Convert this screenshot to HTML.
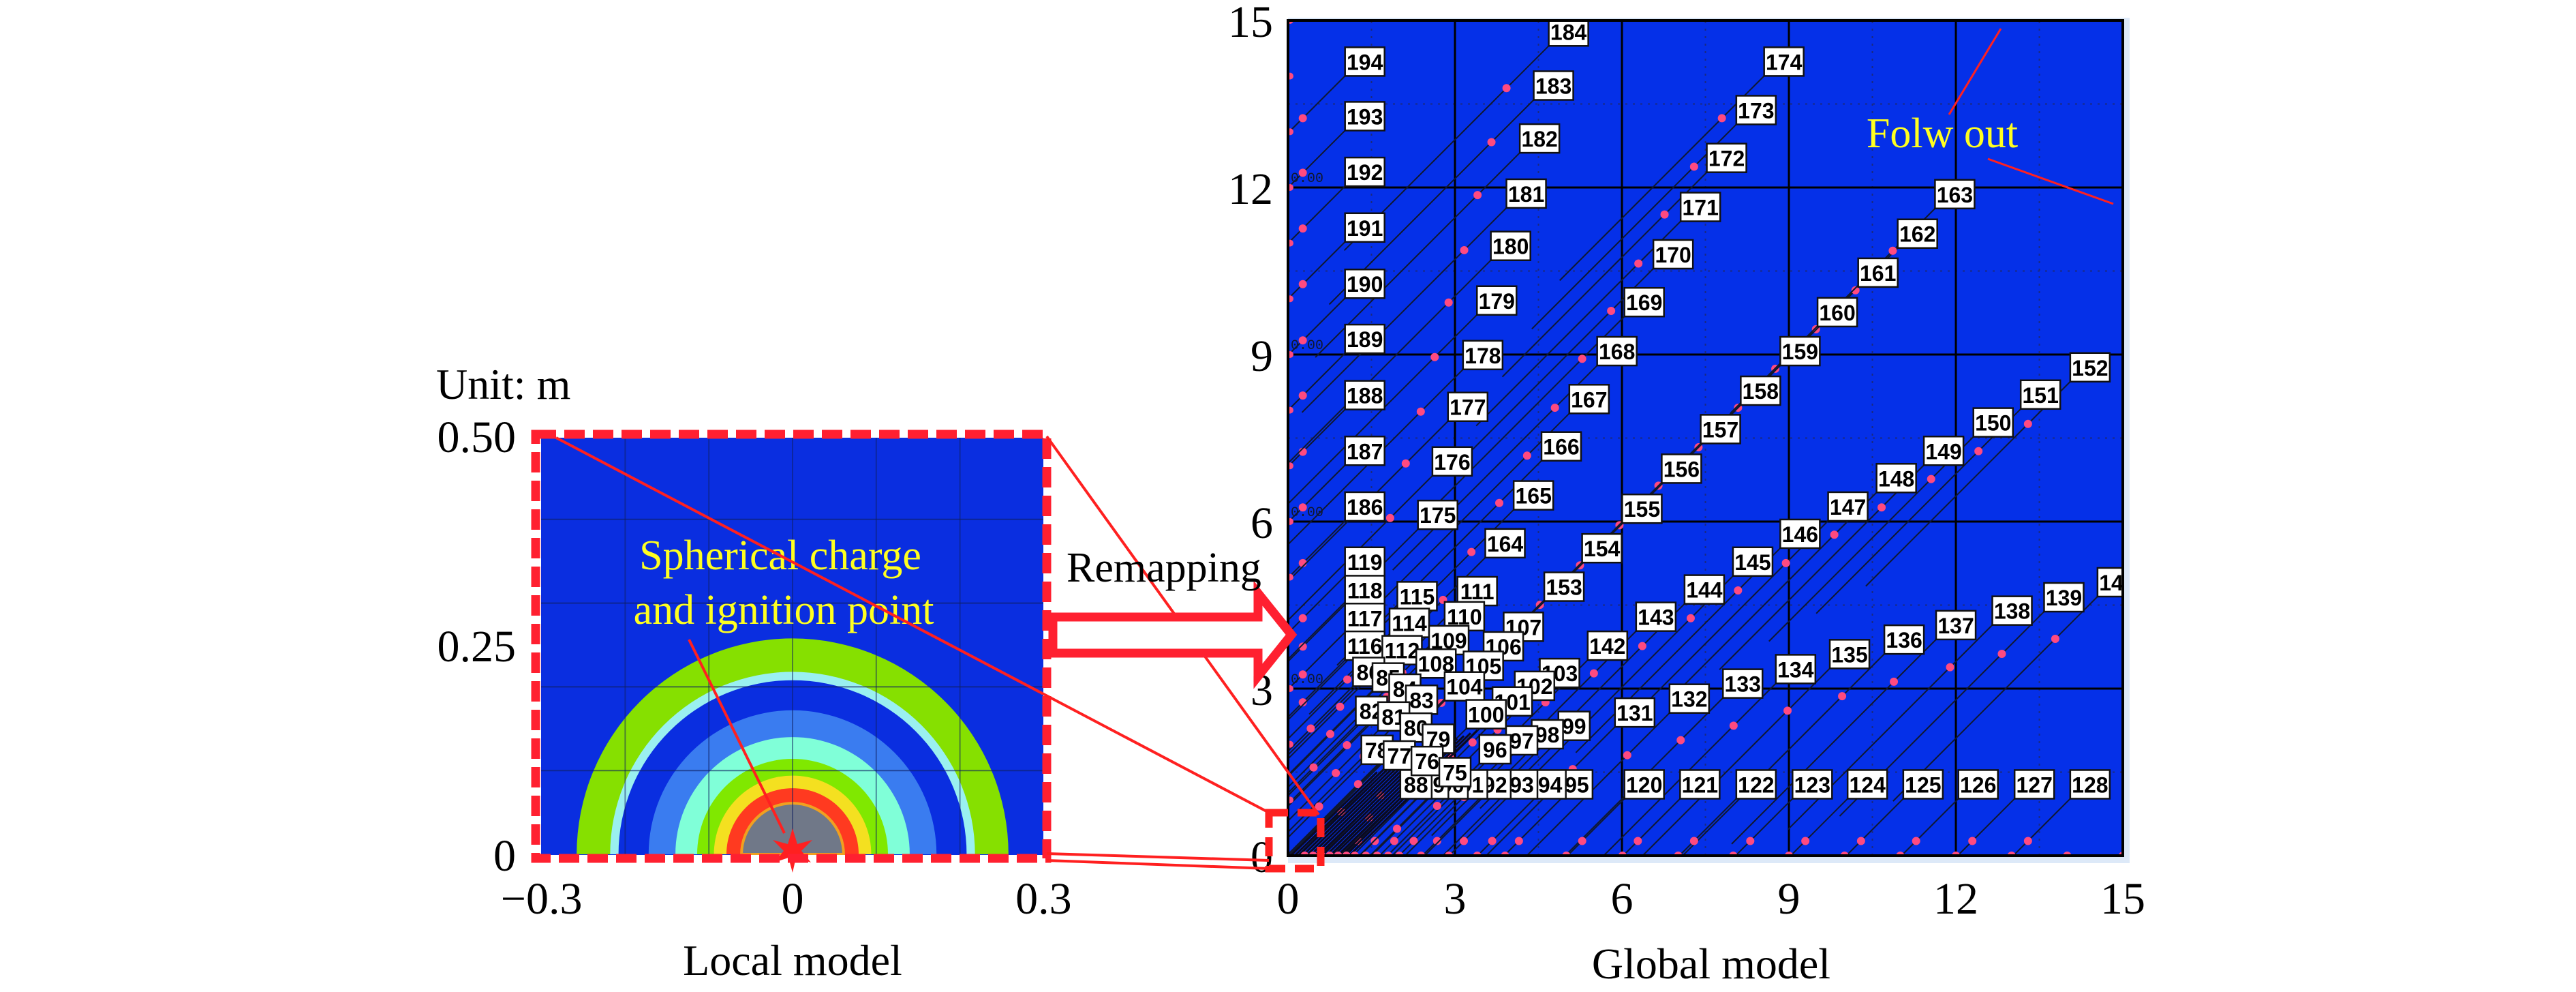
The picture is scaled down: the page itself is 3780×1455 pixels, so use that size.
<!DOCTYPE html>
<html><head><meta charset="utf-8"><style>
html,body{margin:0;padding:0;background:#fff;width:3780px;height:1455px;overflow:hidden}
svg{display:block}
svg text{font-family:"Liberation Serif",serif}
.lbl{font-family:"Liberation Sans",sans-serif;font-size:32px;font-weight:bold}
.tiny{font-family:"Liberation Mono",monospace;font-size:20px;fill:#101830}
</style></head><body>
<svg id="fig" width="3780" height="1455" viewBox="0 0 3780 1455" xmlns="http://www.w3.org/2000/svg">
<defs>
<clipPath id="clipL"><rect x="794" y="642" width="737" height="612"/></clipPath>
<clipPath id="clipG"><rect x="1890" y="30" width="1225" height="1225"/></clipPath>
</defs>
<g id="local"></g>
<g id="global"></g>
<g id="annot"></g>
</svg>
<script>
// ---- Local model data (radii of contour bands, meters) ----
const ringRadii = [0.258, 0.218, 0.208, 0.172, 0.14, 0.114, 0.094, 0.079, 0.061];
const ringColors = ['#86e000','#9af0f0','#0a2ee0','#3a7cf0','#80ffd8','#80e800','#f4e020','#ff3a20','#707888'];
const localXTicks = [-0.3, 0, 0.3];
const localXTickLabels = ['\u22120.3','0','0.3'];
const localYTicks = [0, 0.25, 0.5];
const localYTickLabels = ['0','0.25','0.50'];
// ---- Global model data ----
const globalTicks = [0,3,6,9,12,15];
const labelIds = [194,193,192,191,190,189,188,187,186,119,118,117,116,
 184,183,182,181,180,179,178,177,176,175,
 164,165,166,167,168,169,170,171,172,173,174,
 154,155,156,157,158,159,160,161,162,163,
 153,142,143,144,145,146,147,148,149,150,151,152,
 131,132,133,134,135,136,137,138,139,140,
 120,121,122,123,124,125,126,127,128,95,94,93,92,91,90,89,88,
 115,114,112,111,110,109,108,107,106,105,104,103,102,101,100,99,98,97,96,
 86,85,84,83,82,81,80,79,78,77,76,75];
const labelX = [1.38,1.38,1.38,1.38,1.38,1.38,1.38,1.38,1.38,1.38,1.38,1.38,1.38,
 5.04,4.77,4.52,4.28,4.0,3.75,3.5,3.23,2.95,2.69,
 3.90,4.41,4.91,5.41,5.91,6.40,6.92,7.41,7.88,8.41,8.91,
 5.64,6.36,7.07,7.77,8.49,9.20,9.87,10.6,11.31,11.98,
 4.96,5.74,6.61,7.48,8.35,9.20,10.06,10.93,11.78,12.67,13.52,14.41,
 6.23,7.21,8.17,9.12,10.09,11.07,12.0,13.01,13.94,14.9,
 6.40,7.40,8.41,9.42,10.41,11.41,12.40,13.41,14.41,5.19,4.71,4.20,3.72,3.30,2.95,2.60,2.30,
 2.32,2.18,2.05,3.40,3.17,2.89,2.66,4.23,3.87,3.51,3.17,4.88,4.43,4.03,3.56,5.14,4.66,4.20,3.72,
 1.45,1.8,2.1,2.4,1.5,1.9,2.3,2.7,1.6,2.0,2.5,3.0];
const labelY = [14.26,13.28,12.28,11.28,10.27,9.28,8.27,7.27,6.27,5.28,4.77,4.27,3.77,
 14.8,13.83,12.88,11.89,10.95,9.97,8.99,8.06,7.08,6.12,
 5.61,6.47,7.35,8.20,9.06,9.94,10.80,11.65,12.53,13.39,14.26,
 5.52,6.23,6.95,7.66,8.35,9.06,9.76,10.47,11.17,11.88,
 4.83,3.77,4.29,4.78,5.28,5.78,6.27,6.78,7.27,7.78,8.28,8.77,
 2.57,2.82,3.09,3.35,3.62,3.88,4.14,4.40,4.64,4.91,
 1.28,1.28,1.28,1.28,1.28,1.28,1.28,1.28,1.28,1.28,1.28,1.28,1.28,1.28,1.28,1.28,1.28,
 4.66,4.18,3.69,4.75,4.30,3.87,3.45,4.11,3.76,3.41,3.04,3.28,3.05,2.77,2.54,2.33,2.18,2.07,1.91,
 3.3,3.2,3.0,2.8,2.6,2.5,2.3,2.1,1.9,1.8,1.7,1.5];
const bottomDotX = [0.3,0.45,0.6,0.75,0.9,1.05,1.2,1.4,1.6,1.8,2.0,2.39,2.89,3.40,3.90,5.0,6.01,7.01,8.0,9.0,10.0,11.0,12.0,13.0,14.0,15.0];
const leftDotY = [1,2,3,4,5,6,7,8,9,10,11,12,13,14,15];

const NS='http://www.w3.org/2000/svg';
function mk(tag,attrs,parent){const e=document.createElementNS(NS,tag);for(const k in attrs)e.setAttribute(k,attrs[k]);parent.appendChild(e);return e;}
const LX=v=>1163+v*1228, LY=v=>1253-v*1228;
const GX=v=>1890+v*81.67, GY=v=>1255-v*81.67;

// ---------- Local plot ----------
const L=document.getElementById('local');
const lbg=mk('rect',{x:794,y:642,width:737,height:612,fill:'#0a2ee0'},L);


const lc=mk('g',{'clip-path':'url(#clipL)'},L);
ringRadii.forEach((r,i)=>{
  const rp=r*1228;
  const p=mk('path',{d:`M${LX(0)-rp},${LY(0)} A${rp},${rp} 0 0 1 ${LX(0)+rp},${LY(0)} Z`,fill:ringColors[i],stroke:i==8?'#f0a020':'none','stroke-width':4},lc);
  
  
});
[0.1,0.2,0.3,0.4].forEach(v=>mk('line',{x1:794,x2:1531,y1:LY(v),y2:LY(v),stroke:'#102060','stroke-width':2,opacity:0.6},lc));
[-0.2,-0.1,0,0.1,0.2].forEach(v=>mk('line',{x1:LX(v),x2:LX(v),y1:642,y2:1253,stroke:'#102060','stroke-width':2,opacity:0.5},lc));
const star=mk('polygon',{points:'1163,1215 1170,1238 1192,1232 1176,1248 1190,1265 1168,1258 1163,1280 1157,1258 1136,1265 1150,1248 1134,1232 1156,1238',fill:'#ff2020'},L);


const fr=mk('rect',{x:786,y:637,width:750,height:622,fill:'none',stroke:'#ff2030','stroke-width':13,'stroke-dasharray':'30,12'},L);


localXTicks.forEach((v,i)=>{
  const t=mk('text',{x:LX(v),y:1340,'font-size':66,'text-anchor':'middle'},L);t.textContent=localXTickLabels[i];
  
  
});
localYTicks.forEach((v,i)=>{
  const t=mk('text',{x:757,y:LY(v)+24,'font-size':66,'text-anchor':'end'},L);t.textContent=localYTickLabels[i];
  
  
});
{const t=mk('text',{x:640,y:585,'font-size':64},L);t.textContent='Unit: m';

const t2=mk('text',{x:1163,y:1430,'font-size':64,'text-anchor':'middle'},L);t2.textContent='Local model';

const s1=mk('text',{x:1145,y:835,'font-size':62,'text-anchor':'middle',fill:'#ffff20'},L);s1.textContent='Spherical charge';

const s2=mk('text',{x:1150,y:915,'font-size':62,'text-anchor':'middle',fill:'#ffff20'},L);s2.textContent='and ignition point';

mk('line',{x1:1011,y1:938,x2:1151,y2:1222,stroke:'#ff2020','stroke-width':4},L);}

// ---------- Global plot ----------
const G=document.getElementById('global');
mk('rect',{x:1890,y:26,width:1235,height:1240,fill:'#dde9f8'},G);
const gbg=mk('rect',{x:1890,y:30,width:1225,height:1225,fill:'#0530e8'},G);


const gc=mk('g',{'clip-path':'url(#clipG)'},G);
[1.5,4.5,7.5,10.5,13.5].forEach(v=>{
  mk('line',{x1:GX(0),x2:GX(15),y1:GY(v),y2:GY(v),stroke:'#1a2a80','stroke-width':2,'stroke-dasharray':'3,8'},gc);
  mk('line',{x1:GX(v),x2:GX(v),y1:GY(0),y2:GY(15),stroke:'#1a2a80','stroke-width':2,'stroke-dasharray':'3,8'},gc);
});
globalTicks.forEach(v=>{
  mk('line',{x1:GX(0),x2:GX(15),y1:GY(v),y2:GY(v),stroke:'#000','stroke-width':3},gc);
  mk('line',{x1:GX(v),x2:GX(v),y1:GY(0),y2:GY(15),stroke:'#000','stroke-width':3},gc);
  if(v>0&&v<15){const tt=mk('text',{x:GX(0)+4,y:GY(v)-8,class:'tiny'},gc);tt.textContent='0.00';}
});
// short streamline segments ending at each label's lower-left corner
labelIds.forEach((id,i)=>{
  const w=String(id).length>2?58:46;
  const cx=GX(labelX[i])-w/2, cy=GY(labelY[i])+21;
  const len=Math.max(0,Math.min(300,cx-1890,1255-cy));
  const ln=mk('line',{x1:cx,y1:cy,x2:cx-len,y2:cy+len,stroke:'#101830','stroke-width':2},gc);
  
  
  if(len>70){
    const d=mk('circle',{cx:cx-62,cy:cy+62,r:6,fill:'#ff4a80'},gc);
    
    
  }
});
for(let k=0;k<16;k++){mk('line',{x1:GX(0.05+k*0.07),y1:GY(0),x2:GX(1.6+k*0.12),y2:GY(1.5+k*0.05),stroke:'#0a0a20','stroke-width':3},gc);}
bottomDotX.forEach(v=>{
  const d=mk('circle',{cx:GX(v),cy:GY(0),r:6,fill:'#ff4a80'},gc);
  
  
});
leftDotY.forEach(v=>{
  const d=mk('circle',{cx:GX(0)+3,cy:GY(v),r:5,fill:'#ff4a80'},gc);
  
  
});
labelIds.forEach((id,i)=>{
  const g=mk('g',{},gc);
  
  
  const w=String(id).length>2?58:46;
  mk('rect',{x:GX(labelX[i])-w/2,y:GY(labelY[i])-21,width:w,height:42,fill:'#fff',stroke:'#111','stroke-width':2.5},g);
  const t=mk('text',{x:GX(labelX[i]),y:GY(labelY[i])+12,'text-anchor':'middle',class:'lbl'},g);
  t.textContent=id;
});
mk('rect',{x:1890,y:30,width:1225,height:1225,fill:'none',stroke:'#000','stroke-width':4},G);
globalTicks.forEach(v=>{
  const tx=mk('text',{x:GX(v),y:1340,'font-size':66,'text-anchor':'middle'},G);tx.textContent=v;
  
  
  const ty=mk('text',{x:1868,y:GY(v)+24,'font-size':66,'text-anchor':'end'},G);ty.textContent=v;
  
  
});
{const t=mk('text',{x:2511,y:1435,'font-size':64,'text-anchor':'middle'},G);t.textContent='Global model';

const f=mk('text',{x:2850,y:216,'font-size':62,'text-anchor':'middle',fill:'#ffff20'},G);f.textContent='Folw out';

mk('line',{x1:2936,y1:42,x2:2860,y2:168,stroke:'#ff2020','stroke-width':3},G);
mk('line',{x1:2917,y1:233,x2:3101,y2:299,stroke:'#ff2020','stroke-width':3},G);}

// ---------- Annotations ----------
const A=document.getElementById('annot');
[[816,642,1868,1195],[1536,640,1935,1195],[1536,1252,1862,1262],[1536,1262,1862,1274]].forEach(l=>{
  const ln=mk('line',{x1:l[0],y1:l[1],x2:l[2],y2:l[3],stroke:'#ff2020','stroke-width':4},A);
  
  
});
const box=mk('rect',{x:1862,y:1192,width:76,height:82,fill:'none',stroke:'#ff2020','stroke-width':11,'stroke-dasharray':'28,14'},A);


const arr=mk('path',{d:'M1545,905 L1846,905 L1846,870 L1895,931 L1846,992 L1846,958 L1545,958 Z',fill:'#fff',stroke:'#ff2030','stroke-width':13,'stroke-linejoin':'miter'},A);


{const t=mk('text',{x:1565,y:853,'font-size':62},A);t.textContent='Remapping';
}
</script>
</body></html>
